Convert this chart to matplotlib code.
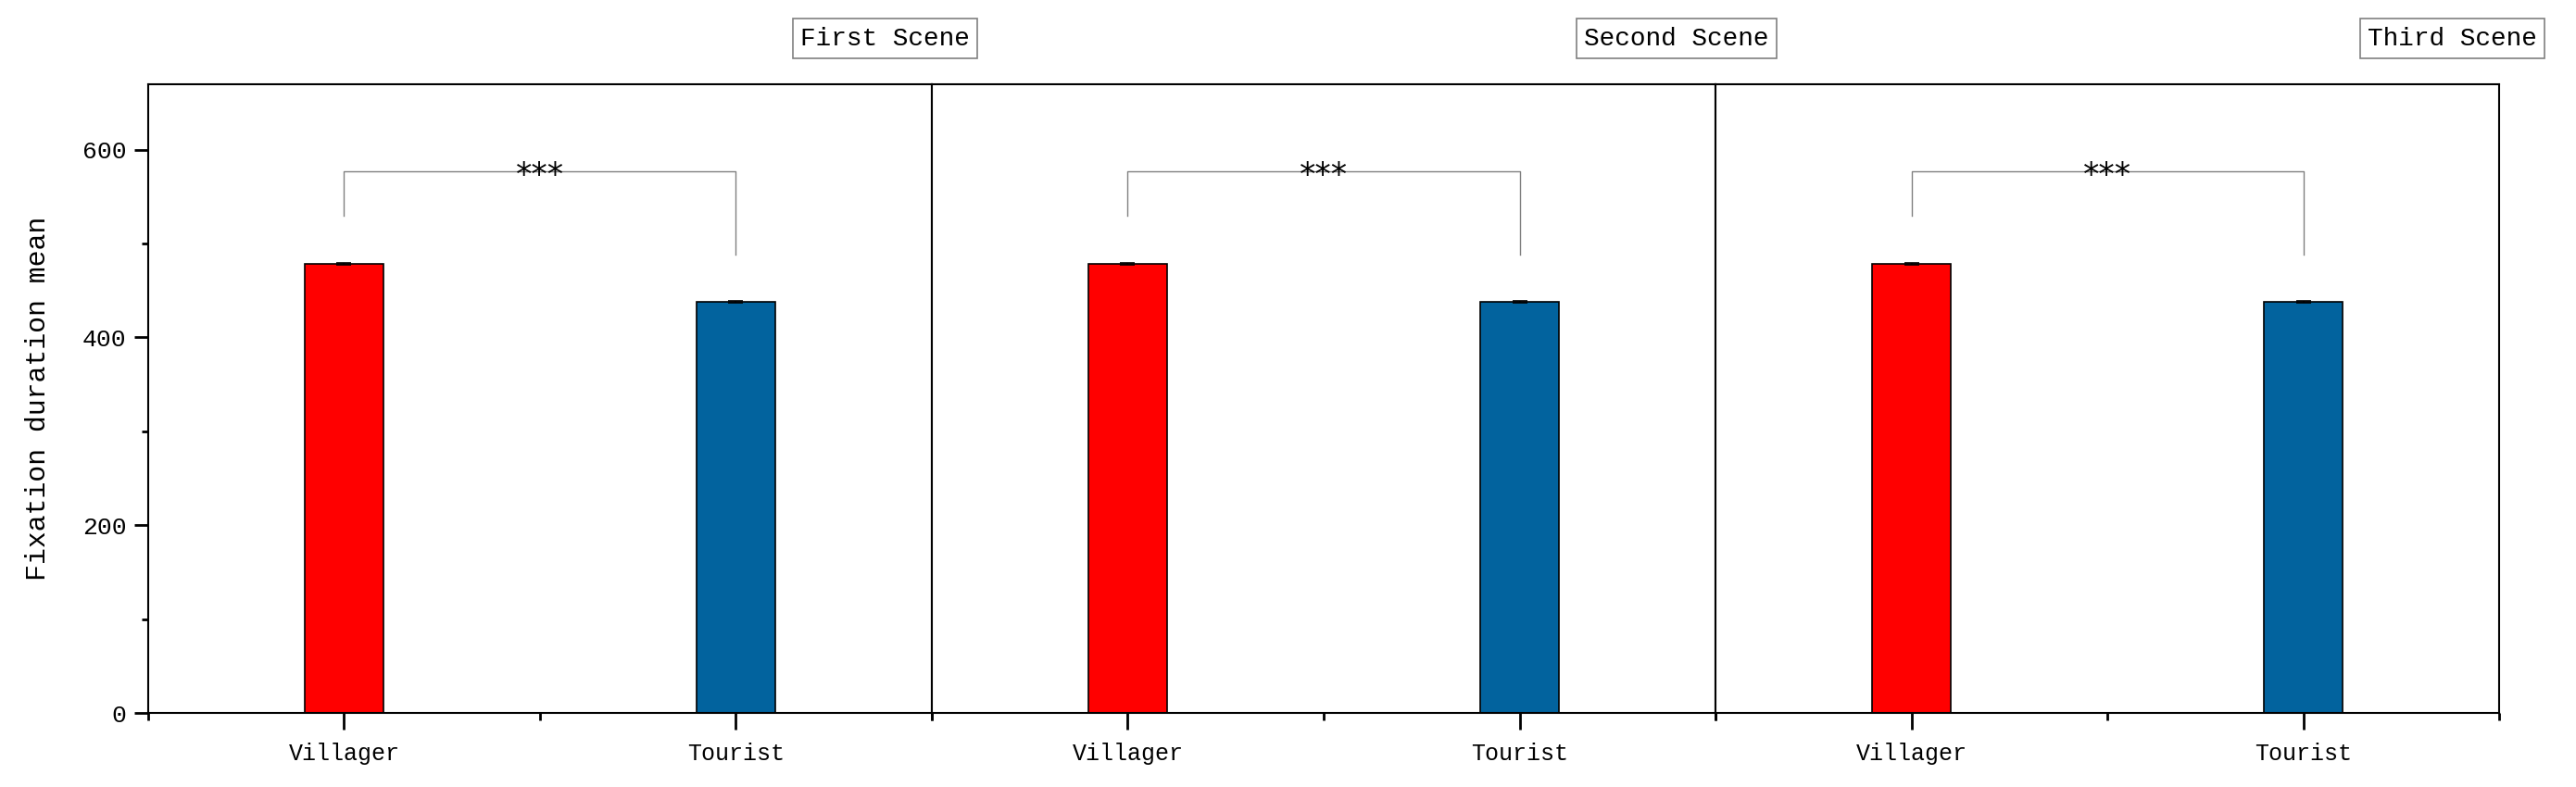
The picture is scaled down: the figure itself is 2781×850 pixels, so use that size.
import matplotlib
matplotlib.use('Agg')
import matplotlib.pyplot as plt
from matplotlib.ticker import MultipleLocator, FixedLocator

plt.rcParams['font.family'] = ['Liberation Mono', 'DejaVu Sans']

scenes = ['First Scene', 'Second Scene', 'Third Scene']
groups = ['Villager', 'Tourist']
means = [[478.5, 437.5], [478.5, 437.5], [478.5, 437.5]]
errors = [[1.2, 1.0], [1.2, 1.0], [1.2, 1.0]]
bar_colors = ['#FF0000', '#02639E']
sig_y = 577
leg_ends = [530, 488]
sig_text = '***'

fig = plt.figure(figsize=(27.81, 8.5), dpi=100)
left, right, bottom, top = 0.0575, 0.9702, 0.0941, 0.8935
w = (right - left) / 3

x = [0.5, 1.5]
for i, scene in enumerate(scenes):
    ax = fig.add_axes([left + i * w, bottom, w, top - bottom])
    ax.bar(x, means[i], width=0.2, color=bar_colors, edgecolor='black',
           linewidth=1.2, yerr=errors[i], capsize=6,
           error_kw={'elinewidth': 1.2, 'capthick': 1.2})
    # significance bracket
    ax.plot([x[0], x[0], x[1], x[1]], [leg_ends[0], sig_y, sig_y, leg_ends[1]],
            color='#808080', linewidth=1.0)
    ax.text((x[0] + x[1]) / 2, sig_y - 15, sig_text, ha='center', va='baseline',
            fontsize=25, family='DejaVu Sans')
    ax.set_xlim(0, 2)
    ax.set_ylim(0, 670)
    ax.set_xticks(x)
    ax.set_xticklabels(groups, fontsize=18)
    ax.xaxis.set_minor_locator(FixedLocator([0, 1, 2]))
    ax.tick_params(axis='x', which='major', direction='out', length=13, width=2, pad=10)
    ax.tick_params(axis='x', which='minor', direction='out', length=6, width=2)
    for s in ax.spines.values():
        s.set_linewidth(1.5)
    if i == 0:
        ax.yaxis.set_major_locator(MultipleLocator(200))
        ax.yaxis.set_minor_locator(MultipleLocator(100))
        ax.tick_params(axis='y', which='major', direction='out', length=11, width=2,
                       labelsize=19, pad=6)
        ax.tick_params(axis='y', which='minor', direction='out', length=5, width=2)
        ax.set_ylabel('Fixation duration mean', fontsize=21.5, labelpad=24)
    else:
        ax.tick_params(axis='y', which='both', left=False, labelleft=False)
    ax.text(0.832, 1.072, scene, transform=ax.transAxes, ha='left', va='center',
            fontsize=20, clip_on=False,
            bbox=dict(boxstyle='square,pad=0.3', facecolor='white',
                      edgecolor='#808080', linewidth=1.2))

fig.savefig('out.png', dpi=100)
